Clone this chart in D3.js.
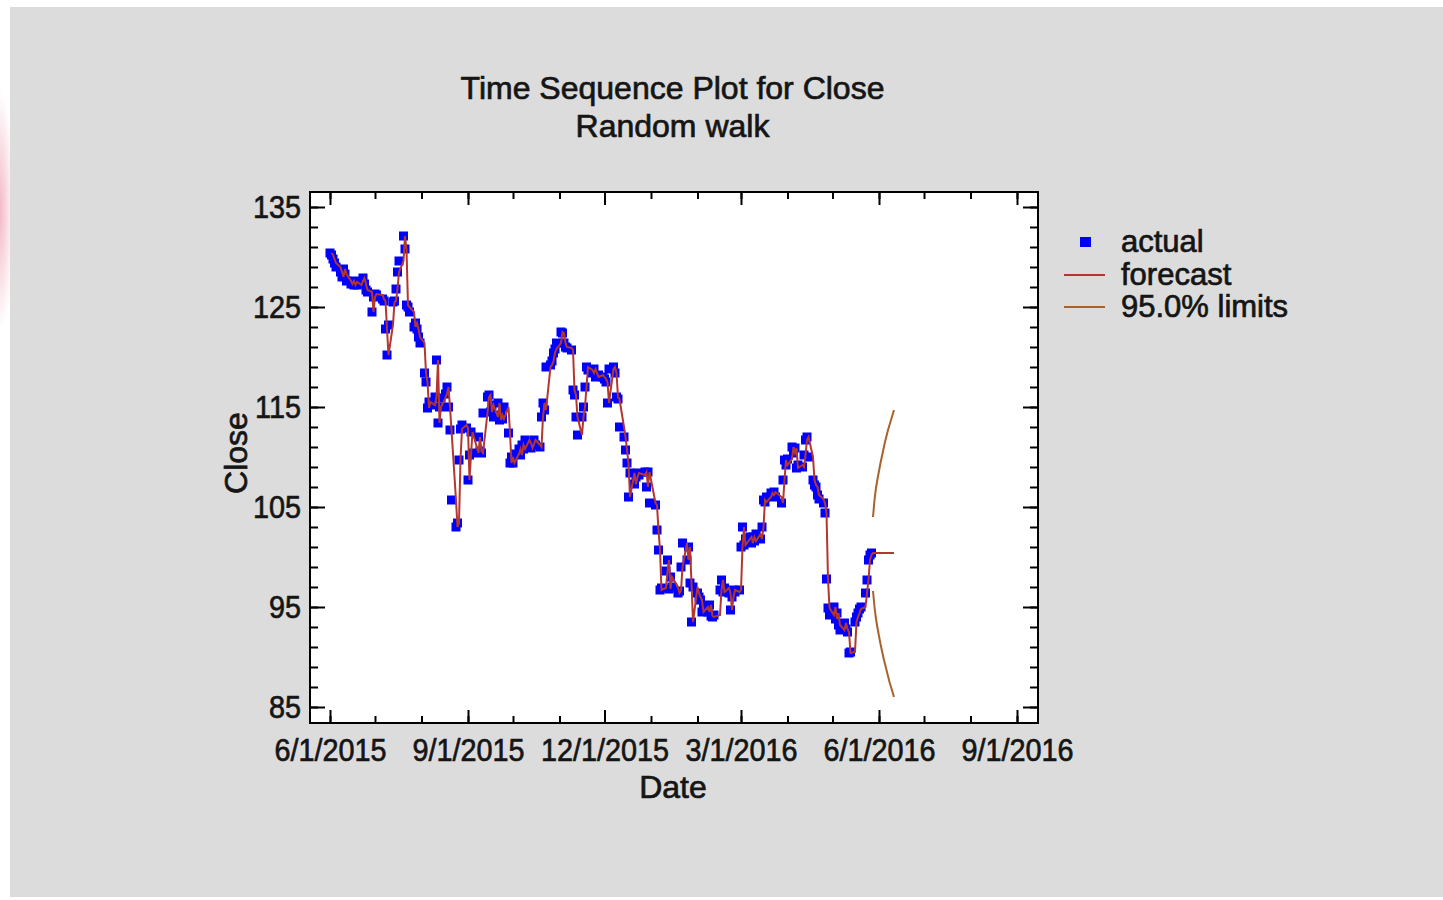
<!DOCTYPE html>
<html>
<head>
<meta charset="utf-8">
<script src="https://cdn.jsdelivr.net/npm/d3@7"></script>
<style>
    body { margin: 0; background: #fff; }
    svg text { font-family: "Liberation Sans", Arial, sans-serif; fill: #151515; stroke: #151515; stroke-width: 0.7px; }
</style>
</head>
<body>
<div id="chart-container"></div>
<script>
// Trading days and closing prices
const tradingDays = [
    "2015-06-01","2015-06-02","2015-06-03","2015-06-04","2015-06-05","2015-06-08","2015-06-09","2015-06-10","2015-06-11","2015-06-12",
    "2015-06-15","2015-06-16","2015-06-17","2015-06-18","2015-06-19","2015-06-22","2015-06-23","2015-06-24","2015-06-25","2015-06-26",
    "2015-06-29","2015-06-30",
    "2015-07-01","2015-07-02","2015-07-06","2015-07-07","2015-07-08","2015-07-09","2015-07-10","2015-07-13","2015-07-14","2015-07-15",
    "2015-07-16","2015-07-17","2015-07-20","2015-07-21","2015-07-22","2015-07-23","2015-07-24","2015-07-27","2015-07-28","2015-07-29",
    "2015-07-30","2015-07-31",
    "2015-08-03","2015-08-04","2015-08-05","2015-08-06","2015-08-07","2015-08-10","2015-08-11","2015-08-12","2015-08-13","2015-08-14",
    "2015-08-17","2015-08-18","2015-08-19","2015-08-20","2015-08-21","2015-08-24","2015-08-25","2015-08-26","2015-08-27","2015-08-28",
    "2015-08-31",
    "2015-09-01","2015-09-02","2015-09-03","2015-09-04","2015-09-08","2015-09-09","2015-09-10","2015-09-11","2015-09-14","2015-09-15",
    "2015-09-16","2015-09-17","2015-09-18","2015-09-21","2015-09-22","2015-09-23","2015-09-24","2015-09-25","2015-09-28","2015-09-29",
    "2015-09-30",
    "2015-10-01","2015-10-02","2015-10-05","2015-10-06","2015-10-07","2015-10-08","2015-10-09","2015-10-12","2015-10-13","2015-10-14",
    "2015-10-15","2015-10-16","2015-10-19","2015-10-20","2015-10-21","2015-10-22","2015-10-23","2015-10-26","2015-10-27","2015-10-28",
    "2015-10-29","2015-10-30",
    "2015-11-02","2015-11-03","2015-11-04","2015-11-05","2015-11-06","2015-11-09","2015-11-10","2015-11-11","2015-11-12","2015-11-13",
    "2015-11-16","2015-11-17","2015-11-18","2015-11-19","2015-11-20","2015-11-23","2015-11-24","2015-11-25","2015-11-27","2015-11-30",
    "2015-12-01","2015-12-02","2015-12-03","2015-12-04","2015-12-07","2015-12-08","2015-12-09","2015-12-10","2015-12-11","2015-12-14",
    "2015-12-15","2015-12-16","2015-12-17","2015-12-18","2015-12-21","2015-12-22","2015-12-23","2015-12-24","2015-12-28","2015-12-29",
    "2015-12-30","2015-12-31",
    "2016-01-04","2016-01-05","2016-01-06","2016-01-07","2016-01-08","2016-01-11","2016-01-12","2016-01-13","2016-01-14","2016-01-15",
    "2016-01-19","2016-01-20","2016-01-21","2016-01-22","2016-01-25","2016-01-26","2016-01-27","2016-01-28","2016-01-29",
    "2016-02-01","2016-02-02","2016-02-03","2016-02-04","2016-02-05","2016-02-08","2016-02-09","2016-02-10","2016-02-11","2016-02-12",
    "2016-02-16","2016-02-17","2016-02-18","2016-02-19","2016-02-22","2016-02-23","2016-02-24","2016-02-25","2016-02-26","2016-02-29",
    "2016-03-01","2016-03-02","2016-03-03","2016-03-04","2016-03-07","2016-03-08","2016-03-09","2016-03-10","2016-03-11","2016-03-14",
    "2016-03-15","2016-03-16","2016-03-17","2016-03-18","2016-03-21","2016-03-22","2016-03-23","2016-03-24","2016-03-28","2016-03-29",
    "2016-03-30","2016-03-31",
    "2016-04-01","2016-04-04","2016-04-05","2016-04-06","2016-04-07","2016-04-08","2016-04-11","2016-04-12","2016-04-13","2016-04-14",
    "2016-04-15","2016-04-18","2016-04-19","2016-04-20","2016-04-21","2016-04-22","2016-04-25","2016-04-26","2016-04-27","2016-04-28",
    "2016-04-29",
    "2016-05-02","2016-05-03","2016-05-04","2016-05-05","2016-05-06","2016-05-09","2016-05-10","2016-05-11","2016-05-12","2016-05-13",
    "2016-05-16","2016-05-17","2016-05-18","2016-05-19","2016-05-20","2016-05-23","2016-05-24","2016-05-25","2016-05-26","2016-05-27"
];

const closeValues = [
    130.4,130.2,129.8,129.4,129.0,128.5,128.0,128.8,128.3,127.6,
    127.3,127.6,127.2,127.5,127.2,127.6,127.9,127.3,126.7,126.5,
    124.5,126.0,
    126.3,126.2,125.8,125.6,122.8,120.2,123.2,125.5,125.6,126.8,
    128.5,129.6,132.1,130.8,125.2,125.0,124.5,123.0,123.4,122.8,
    122.0,121.4,
    118.4,117.5,114.9,115.5,115.2,116.0,119.7,113.4,115.0,115.9,
    116.3,117.0,115.0,112.7,105.7,103.0,103.4,109.7,112.8,113.2,
    112.9,
    107.7,110.2,112.5,110.4,112.0,110.6,110.4,114.4,116.0,116.2,
    114.5,115.2,114.0,115.4,113.7,114.2,113.8,115.0,112.4,109.4,
    110.0,
    109.4,110.3,110.8,110.2,111.2,110.8,111.7,111.4,110.9,111.3,
    111.7,111.2,111.0,114.0,115.4,114.7,119.0,119.2,119.6,120.4,
    120.8,121.4,
    122.5,122.4,121.4,121.0,120.9,120.7,116.7,116.2,114.0,112.2,
    114.0,115.0,117.0,119.0,118.7,118.4,118.8,118.0,118.2,118.0,
    117.8,117.5,115.4,118.8,119.0,118.4,116.0,115.8,113.0,112.0,
    110.7,109.4,106.0,108.4,107.3,108.0,108.4,108.2,108.5,107.0,
    108.5,105.4,
    105.2,102.7,100.7,96.7,96.9,98.6,99.7,96.8,98.0,97.0,
    96.4,96.6,99.0,101.4,99.7,101.0,97.4,93.5,97.0,
    96.4,96.0,95.7,94.5,95.0,94.5,95.2,94.1,94.0,94.2,
    96.7,97.7,96.5,96.9,96.4,94.7,96.0,96.7,96.5,96.7,
    101.0,103.0,101.2,101.8,102.0,101.4,102.0,101.6,102.3,101.8,
    103.0,105.7,105.5,106.0,106.4,106.2,106.5,106.0,105.4,107.7,
    109.7,109.2,
    109.8,111.0,110.4,110.9,108.9,109.2,109.0,110.2,111.7,112.0,
    110.0,107.7,107.2,107.0,106.2,105.8,105.4,104.4,97.8,94.9,
    94.2,
    95.0,93.8,94.4,93.2,92.7,93.4,92.8,92.5,90.4,90.5,
    93.5,94.0,94.4,94.8,95.0,96.4,97.7,99.7,100.2,100.4
];

// Forecasts past the end of the data, with 95% limits
const forecastDays = [
    "2016-05-28","2016-05-29","2016-05-30","2016-05-31","2016-06-01","2016-06-02","2016-06-03","2016-06-04",
    "2016-06-05","2016-06-06","2016-06-07","2016-06-08","2016-06-09","2016-06-10","2016-06-11"
];
const forecastValues = [100.4,100.4,100.4,100.4,100.4,100.4,100.4,100.4,100.4,100.4,100.4,100.4,100.4,100.4,100.4];
const upperLimits = [104.0,105.7,106.9,107.8,108.6,109.4,110.1,110.8,111.5,112.1,112.7,113.2,113.7,114.2,114.7];
const lowerLimits = [96.6,95.0,93.8,92.9,92.1,91.3,90.6,89.9,89.3,88.7,88.1,87.5,87.0,86.5,86.0];

// Axis ticks and legend
const xTickLabels = ["6/1/2015", "9/1/2015", "12/1/2015", "3/1/2016", "6/1/2016", "9/1/2016"];
const yTickValues = [85, 95, 105, 115, 125, 135];
const legendLabels = ["actual", "forecast", "95.0% limits"];

const parseDay = d3.utcParse("%Y-%m-%d");
const parseTick = d3.utcParse("%m/%d/%Y");

const actual = tradingDays.map((d, i) => ({ date: parseDay(d), value: closeValues[i] }));
// random walk: one-step-ahead forecast is the previous close
const fitted = actual.slice(1).map((d, i) => ({ date: d.date, value: actual[i].value }));
const ahead = forecastDays.map((d, i) => ({ date: parseDay(d), value: forecastValues[i], upper: upperLimits[i], lower: lowerLimits[i] }));
const forecastLine = fitted.concat(ahead);

const frame = { left: 310, top: 192, width: 728, height: 531 };
const dayMs = 864e5;
const firstTick = parseTick(xTickLabels[0]);

const x = d3.scaleUtc()
    .domain([new Date(+firstTick - 13.33 * dayMs), new Date(+firstTick + 472 * dayMs)])
    .range([0, frame.width]);

const y = d3.scaleLinear()
    .domain([83.4, 136.5])
    .range([frame.height, 0]);

const svg = d3.select("#chart-container")
    .append("svg")
    .attr("width", 1443)
    .attr("height", 900);

// grey panel and the pink smudge at the left edge
const defs = svg.append("defs");
const smudge = defs.append("radialGradient").attr("id", "smudge");
smudge.append("stop").attr("offset", "0%").attr("stop-color", "#f3b9c6");
smudge.append("stop").attr("offset", "100%").attr("stop-color", "#ffffff");
svg.append("ellipse")
    .attr("cx", 0).attr("cy", 210).attr("rx", 14).attr("ry", 120)
    .attr("fill", "url(#smudge)");

svg.append("rect")
    .attr("x", 10).attr("y", 7)
    .attr("width", 1433).attr("height", 890)
    .attr("fill", "#dcdcdc");

const g = svg.append("g")
    .attr("transform", `translate(${frame.left},${frame.top})`);

g.append("rect")
    .attr("width", frame.width)
    .attr("height", frame.height)
    .attr("fill", "#fff");

// Ticks point inward on all four sides
const xMajor = xTickLabels.map(parseTick);
const xMinor = d3.utcMonth.range(xMajor[0], new Date(+xMajor[xMajor.length - 1] + dayMs));
const yMinor = d3.range(85, 136, 2);

function styleAxis(sel) {
    sel.select(".domain").remove();
    sel.selectAll(".tick line").attr("stroke-width", 2);
    sel.attr("color", "#000");
}

g.append("g").attr("transform", `translate(0,${frame.height})`)
    .call(d3.axisBottom(x).tickValues(xMinor).tickSizeInner(-7).tickSizeOuter(0).tickFormat(""))
    .call(styleAxis);
g.append("g")
    .call(d3.axisTop(x).tickValues(xMinor).tickSizeInner(-7).tickSizeOuter(0).tickFormat(""))
    .call(styleAxis);
g.append("g")
    .call(d3.axisTop(x).tickValues(xMajor).tickSizeInner(-13).tickSizeOuter(0).tickFormat(""))
    .call(styleAxis);

const xAxis = g.append("g")
    .attr("transform", `translate(0,${frame.height})`)
    .call(d3.axisBottom(x)
        .tickValues(xMajor)
        .tickSizeInner(-13)
        .tickSizeOuter(0)
        .tickPadding(15)
        .tickFormat((d, i) => xTickLabels[i]))
    .call(styleAxis);
xAxis.selectAll(".tick text")
    .attr("font-size", null)
    .style("font-size", "32px")
    .attr("transform", "scale(0.9,1)");

g.append("g")
    .call(d3.axisLeft(y).tickValues(yMinor).tickSizeInner(-8).tickSizeOuter(0).tickFormat(""))
    .call(styleAxis);
g.append("g").attr("transform", `translate(${frame.width},0)`)
    .call(d3.axisRight(y).tickValues(yMinor).tickSizeInner(-8).tickSizeOuter(0).tickFormat(""))
    .call(styleAxis);
g.append("g").attr("transform", `translate(${frame.width},0)`)
    .call(d3.axisRight(y).tickValues(yTickValues).tickSizeInner(-15).tickSizeOuter(0).tickFormat(""))
    .call(styleAxis);

const yAxis = g.append("g")
    .call(d3.axisLeft(y)
        .tickValues(yTickValues)
        .tickSizeInner(-15)
        .tickSizeOuter(0)
        .tickPadding(10))
    .call(styleAxis);
yAxis.selectAll(".tick text")
    .style("font-size", "32px")
    .attr("transform", "scale(0.9,1)");

// Data: blue squares with the forecast line on top
const half = 4.5;
g.append("g")
    .selectAll("rect")
    .data(actual)
    .join("rect")
    .attr("x", d => x(d.date) - half)
    .attr("y", d => y(d.value) - half)
    .attr("width", half * 2)
    .attr("height", half * 2)
    .attr("fill", "#0000ff");

const line = d3.line()
    .x(d => x(d.date))
    .y(d => y(d.value));

g.append("path")
    .datum(forecastLine)
    .attr("fill", "none")
    .attr("stroke", "#b3362f")
    .attr("stroke-width", 2)
    .attr("d", line);

g.append("path")
    .datum(ahead)
    .attr("fill", "none")
    .attr("stroke", "#a8622c")
    .attr("stroke-width", 2)
    .attr("d", line.y(d => y(d.upper)));

g.append("path")
    .datum(ahead)
    .attr("fill", "none")
    .attr("stroke", "#a8622c")
    .attr("stroke-width", 2)
    .attr("d", line.y(d => y(d.lower)));

// frame
g.append("rect")
    .attr("width", frame.width)
    .attr("height", frame.height)
    .attr("fill", "none")
    .attr("stroke", "#000")
    .attr("stroke-width", 2);

// Titles
svg.append("text")
    .attr("x", 672.5)
    .attr("y", 99)
    .attr("text-anchor", "middle")
    .style("font-size", "32px")
    .text("Time Sequence Plot for Close");

svg.append("text")
    .attr("x", 672.5)
    .attr("y", 137)
    .attr("text-anchor", "middle")
    .style("font-size", "32px")
    .text("Random walk");

svg.append("text")
    .attr("x", 673)
    .attr("y", 798)
    .attr("text-anchor", "middle")
    .style("font-size", "32px")
    .text("Date");

svg.append("text")
    .attr("transform", "translate(247,453) rotate(-90)")
    .attr("text-anchor", "middle")
    .style("font-size", "32px")
    .text("Close");

// Legend
const legend = svg.append("g")
    .attr("transform", "translate(1064,0)");

legend.append("rect")
    .attr("x", 16).attr("y", 237)
    .attr("width", 11).attr("height", 10)
    .attr("fill", "#0000ff");

legend.append("line")
    .attr("x1", 0).attr("x2", 41)
    .attr("y1", 275).attr("y2", 275)
    .attr("stroke", "#b3362f").attr("stroke-width", 2);

legend.append("line")
    .attr("x1", 0).attr("x2", 41)
    .attr("y1", 307).attr("y2", 307)
    .attr("stroke", "#a8622c").attr("stroke-width", 2);

legend.selectAll(".legend-label")
    .data(legendLabels)
    .join("text")
    .attr("class", "legend-label")
    .attr("x", 57)
    .attr("y", (d, i) => 252 + i * 32.5)
    .style("font-size", "31px")
    .text(d => d);
</script>
</body>
</html>
